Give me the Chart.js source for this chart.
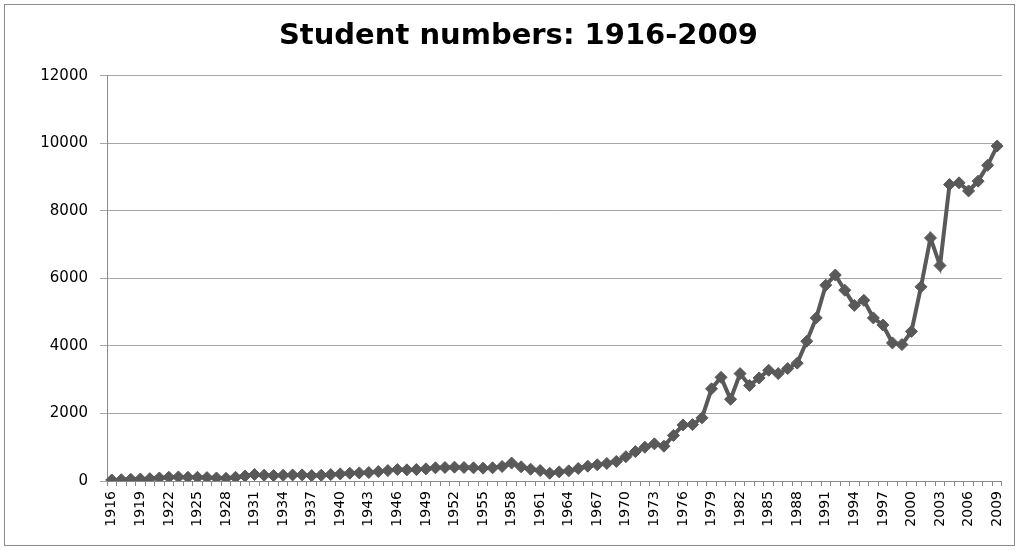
<!DOCTYPE html>
<html>
<head>
<meta charset="utf-8">
<script src="https://cdn.jsdelivr.net/npm/chart.js@4/dist/chart.umd.min.js"></script>
<style>
  html, body { margin: 0; padding: 0; background: #fff; }
  #wrap { width: 1019px; height: 550px; position: relative; }
</style>
</head>
<body>
<div id="wrap"><canvas id="c" width="1019" height="550"></canvas></div>
<script>
const chartTitle = "Student numbers: 1916-2009";

const years = [];
for (let y = 1916; y <= 2009; y++) years.push(String(y));

const students = [
  30, 40, 50, 60, 70, 90, 110, 120, 110, 110,        // 1916-1925
  100, 90, 80, 110, 150, 190, 170, 160, 170, 180,    // 1926-1935
  180, 160, 170, 190, 210, 230, 240, 250, 280, 310,  // 1936-1945
  340, 330, 340, 360, 390, 400, 410, 400, 390, 380,  // 1946-1955
  390, 430, 530, 420, 350, 310, 230, 270, 300, 370,  // 1956-1965
  440, 480, 520, 580, 720, 870, 1000, 1100, 1030, 1350, // 1966-1975
  1660, 1670, 1870, 2730, 3070, 2420, 3180, 2830, 3050, 3280, // 1976-1985
  3180, 3330, 3490, 4140, 4830, 5800, 6100, 5650, 5200, 5350, // 1986-1995
  4830, 4620, 4090, 4040, 4430, 5750, 7200, 6380, 8780, 8830, // 1996-2005
  8590, 8880, 9350, 9920                                      // 2006-2009
];

const yTicks = [0, 2000, 4000, 6000, 8000, 10000, 12000];

const frame = {
  id: 'frame',
  beforeDraw(chart) {
    const ctx = chart.ctx;
    ctx.save();
    ctx.fillStyle = '#ffffff';
    ctx.fillRect(0, 0, chart.width, chart.height);
    ctx.strokeStyle = '#8a8a8a';
    ctx.lineWidth = 1;
    ctx.strokeRect(4.5, 4.5, 1010, 541);
    ctx.restore();
  }
};

new Chart(document.getElementById('c'), {
  type: 'line',
  data: {
    labels: years,
    datasets: [{
      data: students,
      borderColor: '#595959',
      backgroundColor: '#595959',
      borderWidth: 4,
      tension: 0,
      pointStyle: 'rectRot',
      pointRadius: 6,
      pointBorderWidth: 1,
      pointBorderColor: '#595959',
      pointBackgroundColor: '#595959'
    }]
  },
  options: {
    responsive: false,
    animation: false,
    devicePixelRatio: 1,
    layout: { padding: { left: 30, right: 12, top: 0, bottom: 0 } },
    plugins: {
      legend: { display: false },
      tooltip: { enabled: false },
      title: {
        display: true,
        text: chartTitle,
        color: '#000',
        font: { family: 'DejaVu Sans', size: 29, weight: 'bold' },
        padding: { top: 19, bottom: 22 }
      }
    },
    scales: {
      x: {
        type: 'category',
        offset: true,
        grid: { display: true, drawOnChartArea: false, drawTicks: true, tickLength: 5, color: '#8a8a8a', offset: true },
        border: { display: true, color: '#8a8a8a', width: 1 },
        ticks: {
          autoSkip: false,
          minRotation: 90,
          maxRotation: 90,
          padding: 5,
          color: '#000',
          font: { family: 'DejaVu Sans', size: 14 },
          callback: function (v, i) { return i % 3 === 0 ? years[i] : ''; }
        },
        afterFit(scale) { scale.height = 69; }
      },
      y: {
        min: 0,
        max: 12000,
        afterBuildTicks(scale) { scale.ticks = yTicks.map(v => ({ value: v })); },
        grid: { color: '#a6a6a6', lineWidth: 1, drawTicks: true, tickLength: 7 },
        border: { display: true, color: '#8a8a8a', width: 1 },
        ticks: {
          padding: 12,
          color: '#000',
          font: { family: 'DejaVu Sans', size: 15 },
          callback: function (v) { return String(v); }
        },
        afterFit(scale) { scale.width = 77; }
      }
    }
  },
  plugins: [frame]
});
</script>
</body>
</html>
